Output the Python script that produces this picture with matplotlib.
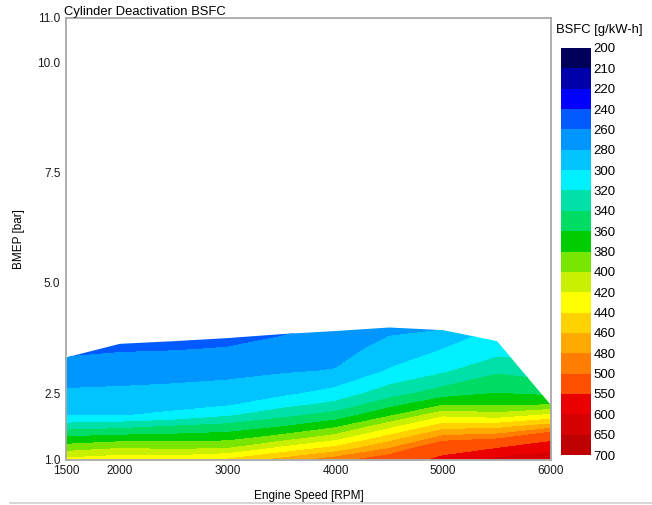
import numpy as np
import matplotlib
matplotlib.use('Agg')
import matplotlib.pyplot as plt
from matplotlib.colors import ListedColormap, BoundaryNorm
from matplotlib.patches import Polygon
from matplotlib.lines import Line2D

plt.rcParams['font.family'] = ['Liberation Sans', 'DejaVu Sans']

# data
speed = [1500, 2000, 2500, 3000, 3500, 4000, 4500, 5000, 5500, 6000]
bmep = [1.0, 1.25, 1.5, 1.75, 2.0, 2.25, 2.5, 3.0, 3.5, 4.0]
# upper limit of the mapped area (bar) at each speed
bmep_max = [3.31, 3.62, 3.68, 3.75, 3.84, 3.91, 3.99, 3.93, 3.68, 2.23]
# BSFC [g/kW-h], one row per bmep value, one column per speed
bsfc = [
    [425, 432, 432, 442, 465, 490, 515, 562, 610, 620],
    [391, 400, 397, 400, 425, 447, 480, 527, 550, 590],
    [362, 367, 368, 371, 387, 409, 447, 486, 492, 527],
    [329, 333, 341, 347, 359, 376, 413, 450, 453, 470],
    [299, 299, 304, 317, 334, 348, 377, 415, 408, 424],
    [291, 292, 294, 297, 312, 325, 352, 377, 376, 378],
    [283, 284, 286, 289, 295, 307, 331, 350, 360, 355],
    [269, 271, 272, 274, 278, 281, 302, 317, 337, 330],
    [255, 258, 259, 261, 267, 272, 287, 300, 310, 310],
    [241, 249, 249, 250, 255, 263, 275, 277, 300, 295],
]
levels = [200, 210, 220, 240, 260, 280, 300, 320, 340, 360, 380, 400,
          420, 440, 460, 480, 500, 550, 600, 650, 700]
band_colors = ['#00005a', '#0000aa', '#0000ff', '#005aff', '#0096ff',
               '#00c3ff', '#00f0ff', '#00e1aa', '#00dc64', '#00cd00',
               '#78e600', '#c8f000', '#ffff00', '#ffd200', '#ffaa00',
               '#ff7d00', '#ff5000', '#eb0000', '#d70000', '#be0000']

cmap = ListedColormap(band_colors)
norm = BoundaryNorm(levels, cmap.N)

fig = plt.figure(figsize=(6.52, 5.05), dpi=100)
ax = fig.add_axes([66/652, 1-459.5/505, (551-66)/652, (459.5-18)/505])
cax = fig.add_axes([561/652, 1-455/505, 30/652, (455-48)/505])

X, Y = np.meshgrid(speed, bmep)
cs = ax.contourf(X, Y, np.array(bsfc), levels=levels, cmap=cmap, norm=norm)

# clip to the operating range
verts = list(zip(speed, bmep_max)) + [(speed[-1], 1.0), (speed[0], 1.0)]
lim = Polygon(verts, closed=True, transform=ax.transData,
              facecolor='none', edgecolor='none')
ax.add_patch(lim)
cs.set_clip_path(lim)

ax.set_xlim(1500, 6000)
ax.set_ylim(1.0, 11.0)
ax.set_xticks([1500, 2000, 3000, 4000, 5000, 6000])
ax.set_yticks([1.0, 2.5, 5.0, 7.5, 10.0, 11.0])
ax.set_yticklabels(['1.0', '2.5', '5.0', '7.5', '10.0', '11.0'])
ax.tick_params(length=0, labelsize=8.5, pad=4, colors='#1a1a1a')
for s in ax.spines.values():
    s.set_color('#a8a8a8')
    s.set_linewidth(1.3)
ax.set_xlabel('Engine Speed [RPM]', fontsize=8.5, labelpad=9)
ax.set_ylabel('BMEP [bar]', fontsize=8.5, labelpad=9)
ax.set_title('Cylinder Deactivation BSFC', loc='left', fontsize=9.4, pad=1,
             x=-0.004)

cb = fig.colorbar(cs, cax=cax, spacing='uniform', ticks=levels)
cb.outline.set_visible(False)
cax.invert_yaxis()
cax.tick_params(length=0, labelsize=9.5, pad=2)
cax.set_yticklabels([str(v) for v in levels])
fig.text(556/652, 1-30/505, 'BSFC [g/kW-h]', fontsize=9.4, ha='left',
         va='center')

fig.add_artist(Line2D([10/652, 1.0], [1-503/505, 1-503/505],
                      color='#cfcfcf', lw=1.2))

fig.savefig('out.png', dpi=100)
